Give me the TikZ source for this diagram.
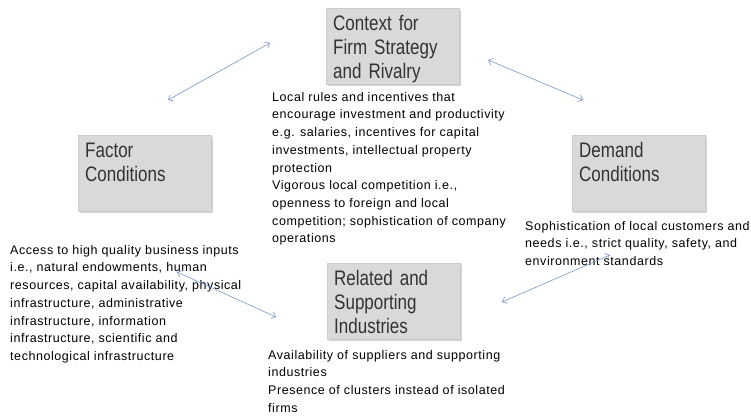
\documentclass[tikz,border=0pt]{standalone}
\usepackage{fontspec}
\setmainfont{Liberation Sans}
\newfontfamily\descfont[LetterSpace=4.5]{Liberation Sans}
\newfontfamily\boxfont[FakeStretch=0.81]{Liberation Sans}
\usetikzlibrary{arrows.meta,shadows}
\definecolor{arrowBlue}{RGB}{120,150,195}
\definecolor{boxGray}{RGB}{217,217,217}

\begin{document}
\begin{tikzpicture}
[x=1pt,y=-1pt,
  boxDecorate/.style={shape=rectangle,draw=black!20,fill=boxGray,anchor=north west,
    minimum width=133pt,minimum height=76pt,inner sep=0pt,
    drop shadow={opacity=0.35,shadow xshift=2pt,shadow yshift=-2pt}},%
  captionDecorate/.style={anchor=north west,align=left,inner sep=0pt,text width=125pt,
    text=black!80,font=\boxfont\fontsize{21}{24}\selectfont},%
  textDecorate/.style={anchor=north west,align=left,inner sep=0pt,
    font=\descfont\fontsize{12.5}{17.7}\selectfont},%
  lineDecorate/.style={{Straight Barb[length=4pt,width=7pt]}-{Straight Barb[length=4pt,width=7pt]},
    draw=arrowBlue,semithick}]
\useasboundingbox (0,0) rectangle (751,417);
%% boxes
\foreach \nodename/\x/\y/\caption in {
  context/326/8/{Context for\\Firm Strategy\\and Rivalry},
  factor/78/135/{Factor\\Conditions},
  demand/572/135/{Demand\\Conditions},
  related/327/263/{Related and\\Supporting\\Industries}}
{
  \node (\nodename) at (\x,\y) [boxDecorate] {};
  \node (\nodename Caption) at ([shift={(7,7.5)}]\nodename.north west) [captionDecorate] {\caption};
}
%% descriptions
\node (contextText) at (272,92) [textDecorate] {Local rules and incentives that\\
  encourage investment and productivity\\
  e.g. salaries, incentives for capital\\
  investments, intellectual property\\
  protection\\
  Vigorous local competition i.e.,\\
  openness to foreign and local\\
  competition; sophistication of company\\
  operations};
\node (factorText) at (10,245) [textDecorate] {Access to high quality business inputs\\
  i.e., natural endowments, human\\
  resources, capital availability, physical\\
  infrastructure, administrative\\
  infrastructure, information\\
  infrastructure, scientific and\\
  technological infrastructure};
\node (demandText) at (525,221) [textDecorate] {Sophistication of local customers and\\
  needs i.e., strict quality, safety, and\\
  environment standards};
\node (relatedText) at (268,350) [textDecorate] {Availability of suppliers and supporting\\
  industries\\
  Presence of clusters instead of isolated\\
  firms};
%% arrow ends
\foreach \nodename/\x/\y in {fl/168/100, cl/270/43, cr/488/60, dr/583/100,
  fb/177/272, rl/276/317, db/610/255, rr/502/302}
{
  \coordinate (\nodename) at (\x,\y);
}
%% arrows
\path
\foreach \startnode/\endnode in {fl/cl, cr/dr, fb/rl, db/rr}
{
  (\startnode) edge[lineDecorate] (\endnode)
};
\end{tikzpicture}
\end{document}
